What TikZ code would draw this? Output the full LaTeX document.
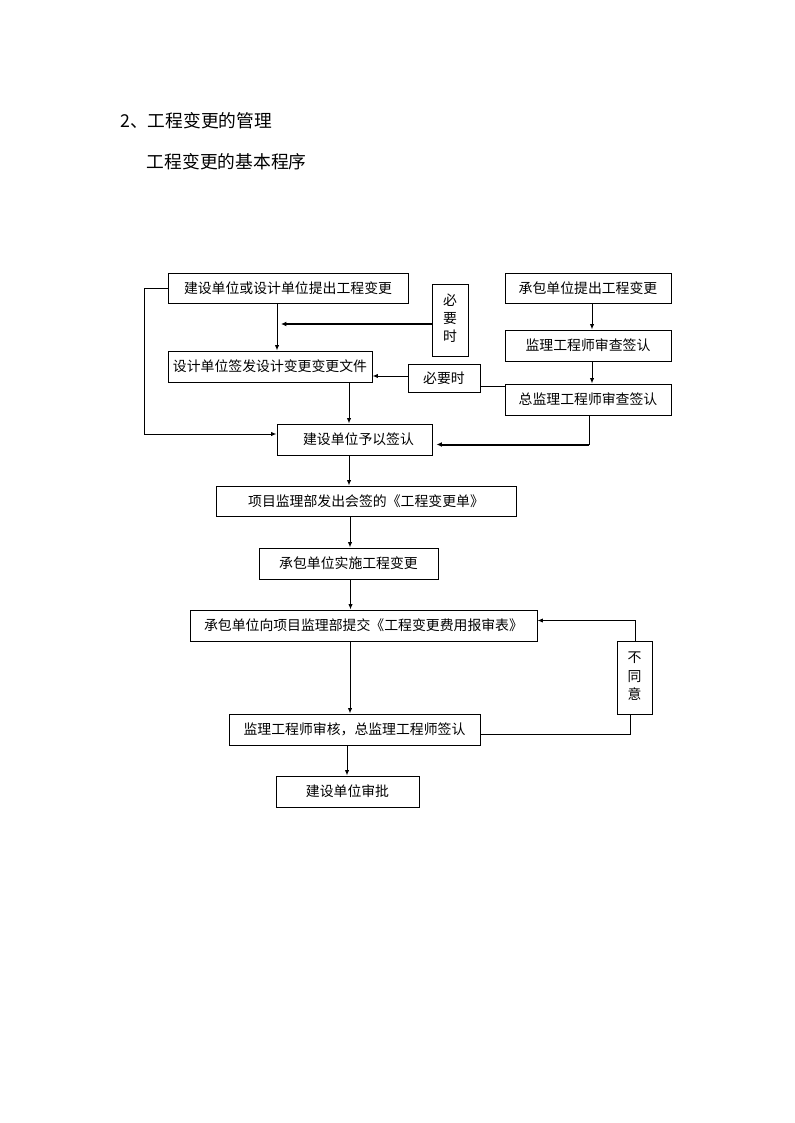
\documentclass[tikz,border=0pt]{standalone}
\usepackage{fontspec}
\setmainfont{Noto Sans CJK SC}
\usetikzlibrary{calc,arrows.meta}
\newcommand{\vstack}[1]{\raisebox{-1.2pt}{\begin{tabular}{@{}c@{}}#1\end{tabular}}}
\begin{document}
\begin{tikzpicture}[x=0.75pt,y=-0.75pt,
  box/.style={draw,line width=0.75pt,inner sep=0pt,font=\fontsize{10.4}{13.5}\selectfont,text height=7.6pt,text depth=0pt,anchor=center},
  vbox/.style={draw,line width=0.75pt,inner sep=0pt,font=\fontsize{10.4}{13.6}\selectfont,anchor=center},
  arr/.style={-{Latex[length=4pt,width=3.2pt]},line width=0.75pt},
  ln/.style={line width=0.75pt},
  thk/.style={line width=1.5pt},
  ttl/.style={anchor=west,inner sep=0pt,font=\fontsize{13.3}{16}\selectfont}]
\fill[white] (0,0) rectangle (794,1123);
\useasboundingbox (0,0) rectangle (794,1123);

\node[ttl] (t1) at (120,120.7) {2、工程变更的管理};
\node[ttl] (t2) at (146.7,161.7) {工程变更的基本程序};

\node[box,minimum width=180pt,minimum height=22.5pt] (A) at (288,288) {建设单位或设计单位提出工程变更};
\node[vbox,minimum width=27pt,minimum height=54pt] (N1) at (450,320) {\vstack{必\\要\\时}};
\node[box,minimum width=124.5pt,minimum height=22.5pt] (B) at (588,288) {承包单位提出工程变更};
\node[box,minimum width=124.5pt,minimum height=23.25pt] (C) at (588,345.5) {监理工程师审查签认};
\node[box,minimum width=153pt,minimum height=23.25pt] (D) at (270,366.5) {设计单位签发设计变更变更文件};
\node[box,minimum width=54pt,minimum height=21pt] (N2) at (444,378) {必要时};
\node[box,minimum width=124.5pt,minimum height=23.25pt] (E) at (588,399.5) {总监理工程师审查签认};
\node[box,minimum width=116.25pt,minimum height=23.25pt] (F) at (354.5,439.5) {\hspace{6pt}建设单位予以签认};
\node[box,minimum width=225pt,minimum height=22.5pt] (G) at (366,501) {项目监理部发出会签的《工程变更单》};
\node[box,minimum width=134.25pt,minimum height=23.25pt] (H) at (348.5,563.5) {承包单位实施工程变更};
\node[box,minimum width=260.25pt,minimum height=23.25pt] (I) at (363.5,625.5) {承包单位向项目监理部提交《工程变更费用报审表》};
\node[vbox,minimum width=26.25pt,minimum height=54.75pt] (J) at (634.5,677.5) {\vstack{不\\同\\意}};
\node[box,minimum width=188.25pt,minimum height=23.25pt] (K) at (354.5,729.5) {监理工程师审核，总监理工程师签认};
\node[box,minimum width=107.25pt,minimum height=23.25pt] (L) at (347.5,791.5) {建设单位审批};

% coordinates derived from nodes
\coordinate (a1) at ($(A.south)+(-11,0)$);
\coordinate (n1) at ($(N1.west)+(0,4)$);
\coordinate (n2) at ($(N2.west)+(0,-2)$);
\coordinate (n3) at ($(N2.east)+(0,8.7)$);
\coordinate (d1) at ($(D.south)+(79,0)$);
\coordinate (b1) at ($(B.south)+(4,0)$);
\coordinate (c1) at ($(C.south)+(4,0)$);
\coordinate (e1) at ($(E.south)+(1,0)$);
\coordinate (f1) at ($(F.east)+(0,5)$);
\coordinate (f2) at ($(F.west)+(0,-5.5)$);
\coordinate (f3) at ($(F.south)+(-5.5,0)$);
\coordinate (g1) at ($(G.south)+(-16,0)$);
\coordinate (h1) at ($(H.south)+(2,0)$);
\coordinate (i1) at ($(I.south)+(-13.5,0)$);
\coordinate (i2) at ($(I.east)+(0,-5)$);
\coordinate (k1) at ($(K.south)+(-7.5,0)$);
\coordinate (k2) at ($(K.east)+(0,5)$);
\coordinate (j1) at ($(J.south)+(-4,0)$);
\coordinate (j2) at ($(J.north)+(0.5,0)$);

% connectors
\draw[arr] (a1) -- (a1 |- D.north);
\draw[thk,-{Latex[length=4pt,width=3.6pt]}] (n1) -- ($(n1 -| a1)+(4,0)$);
\draw[arr] (n2) -- (n2 -| D.east);
\draw[ln] (n3) -- (n3 -| E.west);
\draw[arr] (d1) -- (d1 |- F.north);
\draw[arr] (A.west) -- ++(-23,0) |- (f2);
\draw[arr] (b1) -- (b1 |- C.north);
\draw[arr] (c1) -- (c1 |- E.north);
\draw[ln] (e1) -- (e1 |- f1);
\draw[thk,-{Latex[length=4pt,width=3.6pt]}] (e1 |- f1) -- ($(f1)+(4,0)$);
\draw[arr] (f3) -- (f3 |- G.north);
\draw[arr] (g1) -- (g1 |- H.north);
\draw[arr] (h1) -- (h1 |- I.north);
\draw[arr] (i1) -- (i1 |- K.north);
\draw[arr] (k1) -- (k1 |- L.north);
\draw[ln] (k2) -| (j1);
\draw[arr] (j2) |- (i2);
\end{tikzpicture}
\end{document}
